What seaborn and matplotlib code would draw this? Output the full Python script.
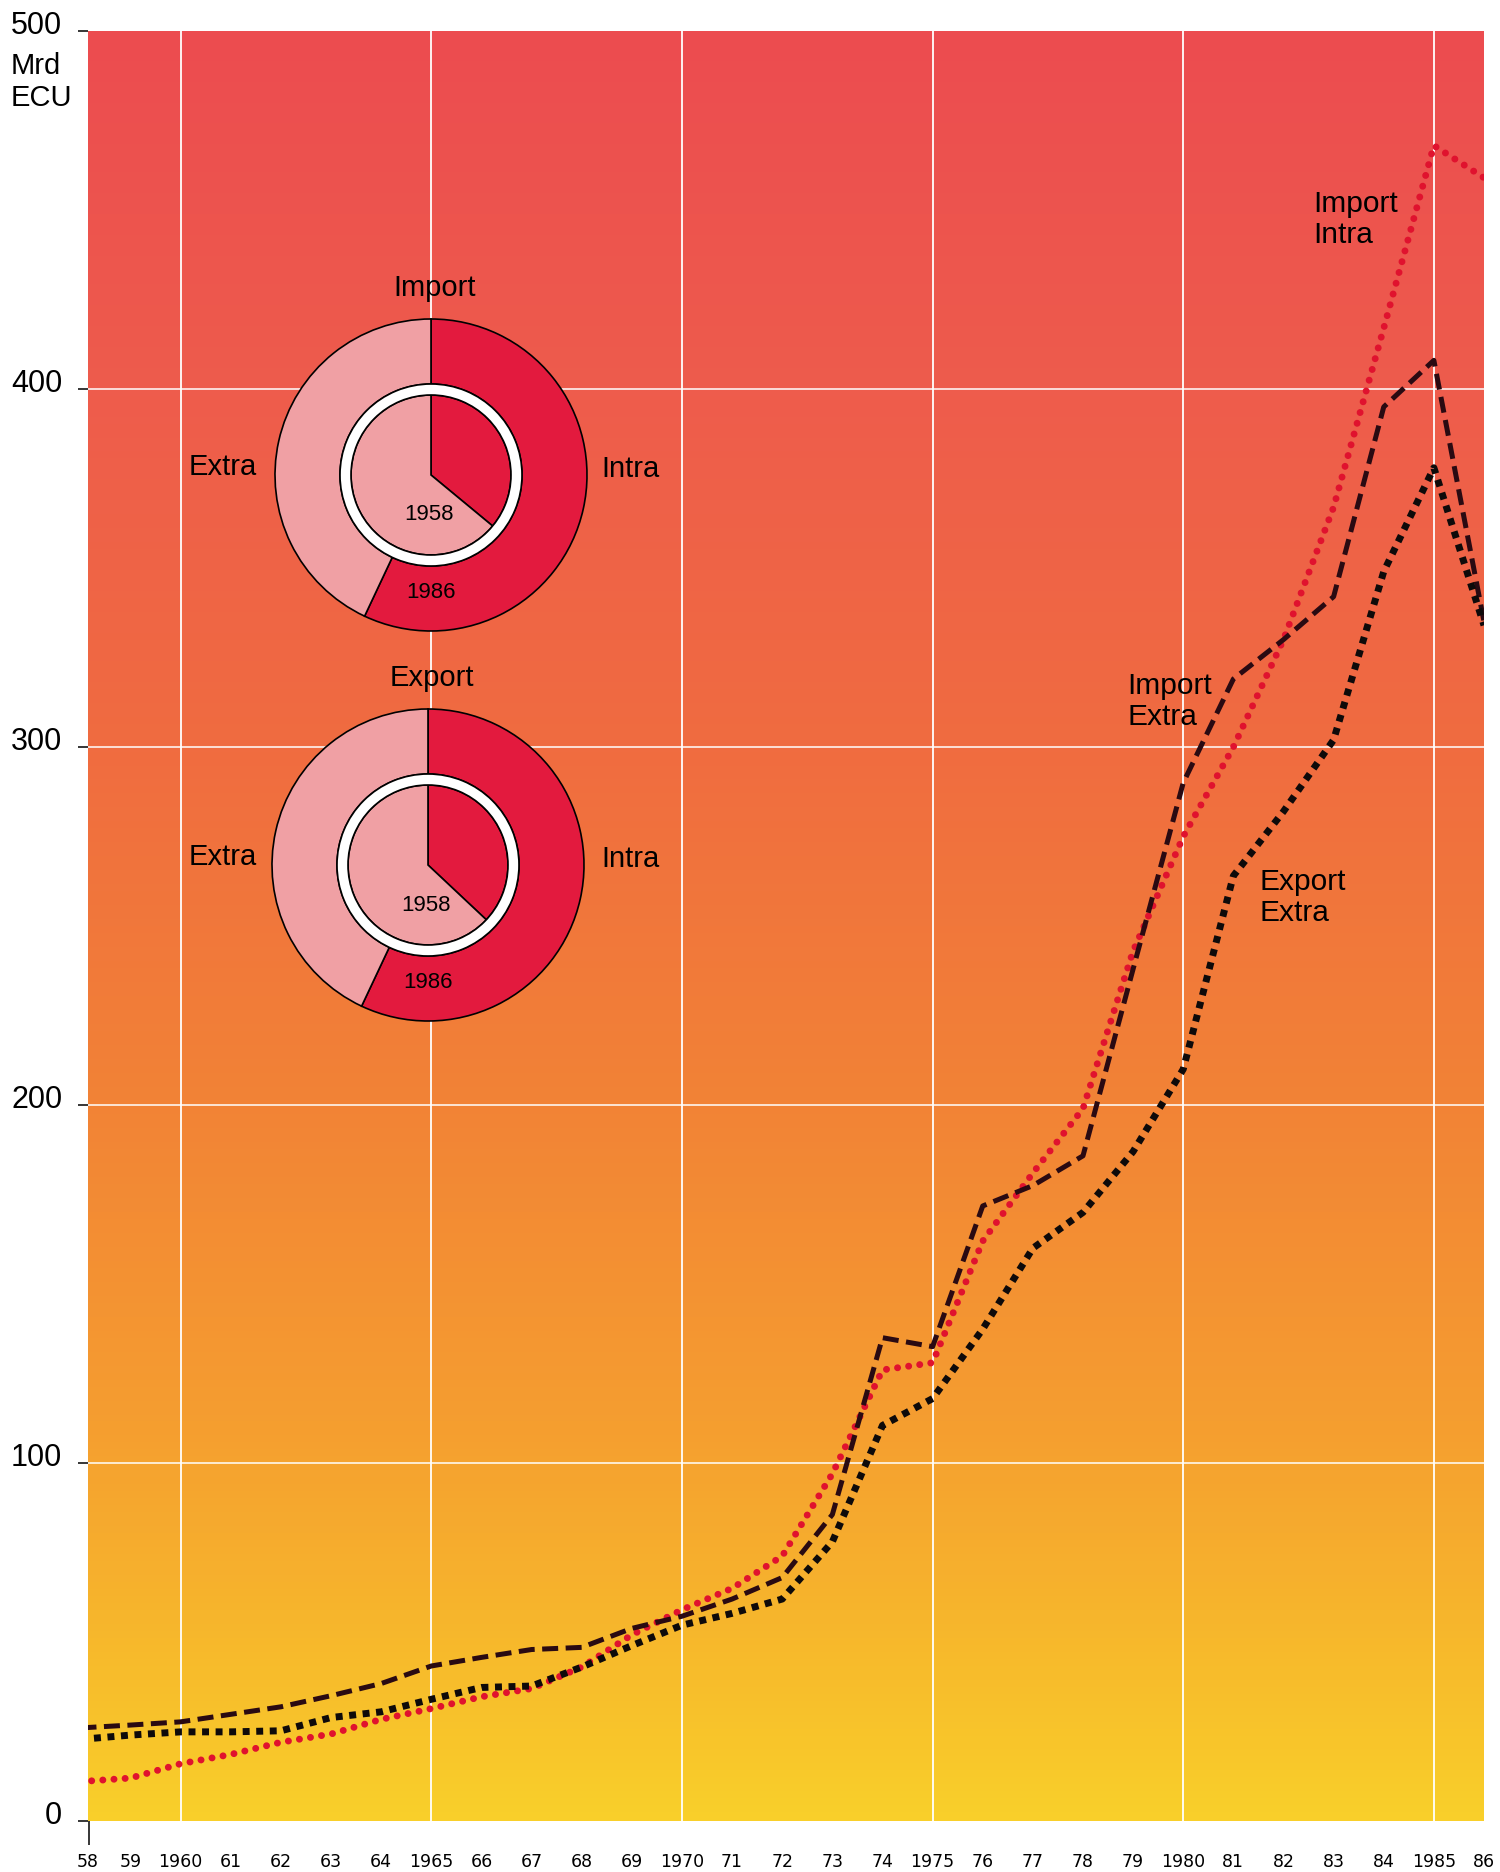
import numpy as np
import pandas as pd
import matplotlib
matplotlib.use("Agg")
import matplotlib.pyplot as plt
import matplotlib.transforms as mtransforms
from matplotlib.colors import LinearSegmentedColormap
from matplotlib.patches import Wedge
from matplotlib import font_manager
import seaborn as sns

# ---------------- data ----------------
years = list(range(1958, 1987))
import_intra = [11, 12, 16, 18.6, 22, 24.3, 28.4, 31.4, 34.7, 37, 43, 52, 59, 65, 74,
                97, 126, 128, 162, 181, 199, 243, 275, 300, 330, 367, 417, 468, 459]
import_extra = [26, 26.8, 27.7, 29.8, 31.9, 35, 38.4, 43.3, 45.7, 47.9, 48.5, 53.8, 57.2, 62, 68,
                85.6, 135, 132.5, 171.8, 177.5, 185.8, 238, 290, 319, 330, 342, 395, 408, 335]
export_extra = [22.8, 24, 24.9, 24.9, 25.2, 28.9, 30.5, 34, 37.3, 37.7, 43, 49, 54.7, 58, 62,
                78, 110.5, 118, 137.4, 160, 170, 187, 210, 264, 282, 302, 349, 378, 334]
year_labels = ["58", "59", "1960", "61", "62", "63", "64", "1965", "66", "67", "68", "69",
               "1970", "71", "72", "73", "74", "1975", "76", "77", "78", "79", "1980", "81",
               "82", "83", "84", "1985", "86"]
y_ticks = [0, 100, 200, 300, 400, 500]
import_intra_share = {"1958": 36, "1986": 57}
export_intra_share = {"1958": 37, "1986": 57}

# ---------------- style ----------------
sns.set_theme(style="white")
plt.rcParams["font.family"] = ["Liberation Sans", "DejaVu Sans"]
for k in ["text.color", "axes.labelcolor", "xtick.color", "ytick.color"]:
    plt.rcParams[k] = "black"

def has_font(name):
    try:
        font_manager.findfont(font_manager.FontProperties(family=name), fallback_to_default=False)
        return True
    except Exception:
        return False

narrow = ["Liberation Sans Narrow"] if has_font("Liberation Sans Narrow") else ["DejaVu Sans"]

W, H = 1500, 1872
fig = plt.figure(figsize=(W / 100, H / 100), dpi=100)
fig.patch.set_facecolor("white")

X0, X1 = 1958.15, 1986.0
ax = fig.add_axes([88 / W, 1 - 1821 / H, (1484 - 88) / W, (1821 - 31) / H])

# gradient background
grad_cmap = LinearSegmentedColormap.from_list(
    "bg",
    [(0.0, "#F9CF2A"), (0.10, "#F7B82C"), (0.22, "#F59E30"), (0.40, "#F28336"),
     (0.60, "#F06C40"), (0.80, "#EE5C4C"), (1.0, "#EC4C50")])
grad = np.linspace(0, 1, 512).reshape(-1, 1)
ax.imshow(grad, extent=(X0, X1, 0, 500), origin="lower", aspect="auto",
          cmap=grad_cmap, zorder=0, interpolation="bicubic")

# grid
for yv in y_ticks[1:-1]:
    ax.axhline(yv, color="white", lw=1.1, zorder=1)
for xv in [1960, 1965, 1970, 1975, 1980, 1985]:
    ax.axvline(xv, color="white", lw=1.3, zorder=1)

df = pd.DataFrame({"year": years, "Import Intra": import_intra,
                   "Import Extra": import_extra, "Export Extra": export_extra})

sns.lineplot(data=df, x="year", y="Import Intra", ax=ax, color="#E0122E", lw=5.0,
             linestyle=(0, (0.01, 1.6)), dash_capstyle="round", zorder=3)
sns.lineplot(data=df, x="year", y="Import Extra", ax=ax, color="#2A0A12", lw=3.6,
             linestyle=(0, (3.2, 1.5)), dash_capstyle="butt", zorder=4)
sns.lineplot(data=df, x="year", y="Export Extra", ax=ax, color="#0E0A0A", lw=5.0,
             linestyle=(0, (1.0, 0.95)), dash_capstyle="butt", zorder=4)

ax.set_xlim(X0, X1)
ax.set_ylim(0, 500)
for s in ax.spines.values():
    s.set_visible(False)
ax.set_xlabel("")
ax.set_ylabel("")
ax.grid(False)

# y ticks
ax.set_yticks(y_ticks)
ax.set_yticklabels([str(v) for v in y_ticks], fontsize=22)
ax.tick_params(axis="y", length=7.5, width=1.1, color="black", pad=11, left=True)
offset = mtransforms.ScaledTranslation(0, 9 / 100, fig.dpi_scale_trans)
for lab in ax.get_yticklabels():
    lab.set_transform(lab.get_transform() + offset)

# x ticks: labels at every year, marks only at selected years
xt = [X0] + years[1:]
ax.set_xticks(xt)
ax.set_xticklabels(year_labels, fontsize=12.5, family=narrow)
ax.tick_params(axis="x", length=0, pad=23, bottom=True)
ax.set_xticks([X0 + 0.02, 1960, 1965, 1970, 1975, 1980, 1985], minor=True)
ax.tick_params(axis="x", which="minor", length=17, width=1.1, color="black", bottom=True)

def fx(x):
    return x / W

def fy(y):
    return 1 - y / H

fig.text(fx(11), fy(66), "Mrd", fontsize=21, ha="left", va="center")
fig.text(fx(11), fy(98), "ECU", fontsize=21, ha="left", va="center")

# line labels
for (x, y, txt) in [(1313, 204, "Import"), (1313, 235, "Intra"),
                    (1127, 686, "Import"), (1127, 717, "Extra"),
                    (1260, 882, "Export"), (1260, 913, "Extra")]:
    fig.text(fx(x), fy(y), txt, fontsize=21.5, ha="left", va="center")

# ---------------- pies ----------------
C_INTRA = "#E31A3E"
C_EXTRA = "#F0A0A4"

def draw_pie(cx, cy, share, title, title_y):
    r_out = 156.0
    half = 175.0
    pax = fig.add_axes([(cx - half) / W, 1 - (cy + half) / H, 2 * half / W, 2 * half / H])
    wp = dict(edgecolor="black", linewidth=1.2)
    pax.pie([share["1986"], 100 - share["1986"]], radius=1.0, colors=[C_INTRA, C_EXTRA],
            startangle=90, counterclock=False,
            wedgeprops=dict(width=1 - 91 / r_out, **wp))
    pax.add_patch(Wedge((0, 0), 91 / r_out, 0, 360, width=11 / r_out,
                        facecolor="white", edgecolor="black", linewidth=1.2, zorder=5))
    pax.pie([share["1958"], 100 - share["1958"]], radius=80 / r_out,
            colors=[C_INTRA, C_EXTRA], startangle=90, counterclock=False, wedgeprops=wp)
    pax.set_xlim(-half / r_out, half / r_out)
    pax.set_ylim(-half / r_out, half / r_out)
    pax.set_aspect("equal")
    pax.axis("off")
    fig.text(fx(cx + 4), fy(title_y), title, fontsize=21, ha="center", va="center")
    fig.text(fx(601), fy(cy - 6), "Intra", fontsize=21, ha="left", va="center")
    fig.text(fx(257), fy(cy - 8), "Extra", fontsize=21, ha="right", va="center")
    fig.text(fx(cx - 2), fy(cy + 40), "1958", fontsize=16, ha="center", va="center")
    fig.text(fx(cx + 0), fy(cy + 118), "1986", fontsize=16, ha="center", va="center")

draw_pie(431, 475, import_intra_share, "Import", 288)
draw_pie(428, 865, export_intra_share, "Export", 678)

fig.savefig("out.png", dpi=100, facecolor="white")
